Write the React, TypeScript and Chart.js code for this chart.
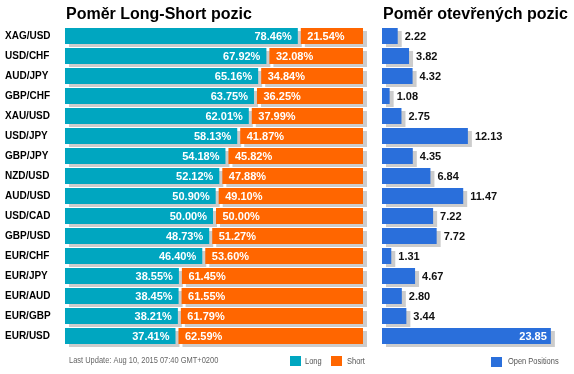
import React, { useEffect, useRef } from 'react';
import { Chart, registerables } from 'chart.js';

Chart.register(...registerables);

const categories = ['XAG/USD', 'USD/CHF', 'AUD/JPY', 'GBP/CHF', 'XAU/USD', 'USD/JPY', 'GBP/JPY', 'NZD/USD', 'AUD/USD', 'USD/CAD', 'GBP/USD', 'EUR/CHF', 'EUR/JPY', 'EUR/AUD', 'EUR/GBP', 'EUR/USD'];
const longValues = [78.46, 67.92, 65.16, 63.75, 62.01, 58.13, 54.18, 52.12, 50.9, 50.0, 48.73, 46.4, 38.55, 38.45, 38.21, 37.41];
const shortValues = [21.54, 32.08, 34.84, 36.25, 37.99, 41.87, 45.82, 47.88, 49.1, 50.0, 51.27, 53.6, 61.45, 61.55, 61.79, 62.59];
const openPositions = [2.22, 3.82, 4.32, 1.08, 2.75, 12.13, 4.35, 6.84, 11.47, 7.22, 7.72, 1.31, 4.67, 2.8, 3.44, 23.85];

const titleLeft = 'Poměr Long-Short pozic';
const titleRight = 'Poměr otevřených pozic';
const footerText = 'Last Update: Aug 10, 2015 07:40 GMT+0200';
const longLabel = 'Long';
const shortLabel = 'Short';
const openLabel = 'Open Positions';

const TEAL = '#00A6C0';
const ORANGE = '#FF6600';
const BLUE = '#2A6FDB';
const SHADOW = '#CCCCCC';
const FONT = 'Arial, "Liberation Sans", sans-serif';
const SX = 4;
const SY = 3;

function bw(ds: any, side: string) {
  const b = ds.borderWidth;
  if (b && typeof b === 'object') return b[side] || 0;
  return 0;
}

const shadowPlugin = {
  id: 'barShadow',
  beforeDatasetsDraw(chart: any) {
    const ctx = chart.ctx;
    ctx.save();
    ctx.fillStyle = SHADOW;
    chart.data.datasets.forEach((ds: any, di: number) => {
      const meta = chart.getDatasetMeta(di);
      meta.data.forEach((el: any) => {
        const p = el.getProps(['x', 'y', 'base', 'height'], true);
        const l = Math.min(p.x, p.base) + bw(ds, 'left');
        const r = Math.max(p.x, p.base) - bw(ds, 'right');
        ctx.fillRect(l + SX, p.y - p.height / 2 + SY, r - l, p.height);
      });
    });
    ctx.restore();
  },
};

function narrowText(ctx: any, text: string, x: number, y: number, size: number, color: string) {
  ctx.save();
  ctx.font = `${size}px ${FONT}`;
  ctx.fillStyle = color;
  ctx.textAlign = 'left';
  ctx.textBaseline = 'middle';
  ctx.translate(x, y);
  ctx.scale(0.83, 1);
  ctx.fillText(text, 0, 0);
  ctx.restore();
}

const leftDecor = {
  id: 'leftDecor',
  afterDatasetsDraw(chart: any) {
    const ctx = chart.ctx;
    ctx.save();
    ctx.font = `bold 11px ${FONT}`;
    ctx.fillStyle = '#FFFFFF';
    ctx.textBaseline = 'middle';
    const mLong = chart.getDatasetMeta(0);
    const mShort = chart.getDatasetMeta(1);
    mLong.data.forEach((el: any, i: number) => {
      const p = el.getProps(['x', 'y'], true);
      ctx.textAlign = 'right';
      ctx.fillText(longValues[i].toFixed(2) + '%', p.x - 7, p.y + 0.5);
    });
    mShort.data.forEach((el: any, i: number) => {
      const p = el.getProps(['base', 'y'], true);
      ctx.textAlign = 'left';
      ctx.fillText(shortValues[i].toFixed(2) + '%', p.base + 8.5, p.y + 0.5);
    });
    ctx.restore();
  },
  afterDraw(chart: any) {
    const ctx = chart.ctx;
    const a = chart.chartArea;
    ctx.save();
    ctx.font = `bold 16px ${FONT}`;
    ctx.fillStyle = '#000';
    ctx.textAlign = 'left';
    ctx.textBaseline = 'alphabetic';
    ctx.fillText(titleLeft, a.left + 1, 19);
    ctx.restore();
    narrowText(ctx, footerText, a.left + 4, 361, 9, '#666');
    ctx.save();
    ctx.fillStyle = TEAL;
    ctx.fillRect(290, 356, 11, 10);
    ctx.fillStyle = ORANGE;
    ctx.fillRect(331, 356, 11, 10);
    ctx.restore();
    narrowText(ctx, longLabel, 305, 361.5, 9, '#555');
    narrowText(ctx, shortLabel, 347, 361.5, 9, '#555');
  },
};

const rightDecor = {
  id: 'rightDecor',
  afterDatasetsDraw(chart: any) {
    const ctx = chart.ctx;
    const a = chart.chartArea;
    ctx.save();
    ctx.font = `bold 11px ${FONT}`;
    ctx.textBaseline = 'middle';
    chart.getDatasetMeta(0).data.forEach((el: any, i: number) => {
      const p = el.getProps(['x', 'y'], true);
      const txt = openPositions[i].toFixed(2);
      const w = ctx.measureText(txt).width;
      if (p.x + 7 + w > a.right) {
        ctx.fillStyle = '#FFFFFF';
        ctx.textAlign = 'right';
        ctx.fillText(txt, p.x - 4, p.y + 0.5);
      } else {
        ctx.fillStyle = '#111';
        ctx.textAlign = 'left';
        ctx.fillText(txt, p.x + 7, p.y + 0.5);
      }
    });
    ctx.restore();
  },
  afterDraw(chart: any) {
    const ctx = chart.ctx;
    const a = chart.chartArea;
    ctx.save();
    ctx.font = `bold 16px ${FONT}`;
    ctx.fillStyle = '#000';
    ctx.textAlign = 'left';
    ctx.textBaseline = 'alphabetic';
    ctx.fillText(titleRight, a.left + 1, 19);
    ctx.fillStyle = BLUE;
    ctx.fillRect(491, 357, 11, 10);
    ctx.restore();
    narrowText(ctx, openLabel, 508, 362, 9, '#555');
  },
};

export default function App() {
  const leftRef = useRef<HTMLCanvasElement | null>(null);
  const rightRef = useRef<HTMLCanvasElement | null>(null);

  useEffect(() => {
    const common = {
      borderColor: 'rgba(0,0,0,0)',
      borderSkipped: false,
      barPercentage: 0.8,
      categoryPercentage: 1,
      inflateAmount: 0,
    };
    const left = new Chart(leftRef.current as HTMLCanvasElement, {
      type: 'bar',
      data: {
        labels: categories,
        datasets: [
          { ...common, label: longLabel, data: longValues, backgroundColor: TEAL, borderWidth: { left: 0, right: 1, top: 0, bottom: 0 } },
          { ...common, label: shortLabel, data: shortValues, backgroundColor: ORANGE, borderWidth: { left: 2, right: 0, top: 0, bottom: 0 } },
        ],
      } as any,
      options: {
        indexAxis: 'y',
        responsive: false,
        animation: false,
        events: [],
        layout: { padding: { left: 5, right: 211, top: 26, bottom: 28 } },
        plugins: { legend: { display: false }, tooltip: { enabled: false }, title: { display: false } },
        scales: {
          x: { stacked: true, min: 0, max: 100, display: false },
          y: {
            stacked: true,
            grid: { display: false },
            border: { display: false },
            ticks: { crossAlign: 'far', color: '#000', padding: 0, font: { family: FONT, size: 10, weight: 'bold' } },
            afterFit: (s: any) => { s.width = 60; },
          },
        },
      } as any,
      plugins: [shadowPlugin, leftDecor],
    });
    const right = new Chart(rightRef.current as HTMLCanvasElement, {
      type: 'bar',
      data: {
        labels: categories,
        datasets: [
          { ...common, label: openLabel, data: openPositions, backgroundColor: BLUE, borderWidth: 0 },
        ],
      } as any,
      options: {
        indexAxis: 'y',
        responsive: false,
        animation: false,
        events: [],
        layout: { padding: { left: 382, right: 15, top: 26, bottom: 28 } },
        plugins: { legend: { display: false }, tooltip: { enabled: false }, title: { display: false } },
        scales: {
          x: { min: 0, max: 25, display: false },
          y: { display: false },
        },
      } as any,
      plugins: [shadowPlugin, rightDecor],
    });
    return () => {
      left.destroy();
      right.destroy();
    };
  }, []);

  const cs: React.CSSProperties = { position: 'absolute', left: 0, top: 0, width: 574, height: 374, display: 'block' };
  return (
    <div style={{ position: 'absolute', left: 0, top: 0, width: 574, height: 374, background: '#fff' }}>
      <canvas ref={leftRef} width={574} height={374} style={cs} />
      <canvas ref={rightRef} width={574} height={374} style={cs} />
    </div>
  );
}
